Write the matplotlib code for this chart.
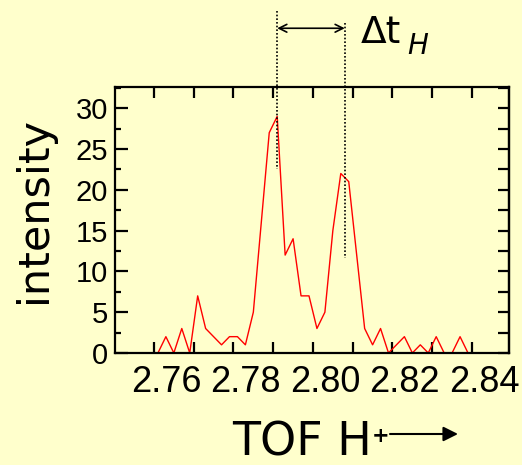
import matplotlib
matplotlib.use("Agg")
import matplotlib.pyplot as plt
from matplotlib.transforms import ScaledTranslation

# time-of-flight bins (us) and counts per bin
tof = [2.761, 2.763, 2.765, 2.767, 2.769, 2.771, 2.773, 2.775, 2.777, 2.779,
       2.781, 2.783, 2.785, 2.787, 2.789, 2.791, 2.793, 2.795, 2.797, 2.799,
       2.801, 2.803, 2.805, 2.807, 2.809, 2.811, 2.813, 2.815, 2.817, 2.819,
       2.821, 2.823, 2.825, 2.827, 2.829, 2.831, 2.833, 2.835, 2.837, 2.839]
counts = [0, 2, 0, 3, 0, 7, 3, 2, 1, 2,
          2, 1, 5, 16, 27, 29, 12, 14, 7, 7,
          3, 5, 15, 22, 21, 12, 3, 1, 3, 0,
          1, 2, 0, 1, 0, 2, 0, 0, 2, 0]

xticks = [2.76, 2.77, 2.78, 2.79, 2.80, 2.81, 2.82, 2.83, 2.84]
xticklabels = ["2.76", "", "2.78", "", "2.80", "", "2.82", "", "2.84"]
yticks = [0, 5, 10, 15, 20, 25, 30]
yminor = [2.5, 7.5, 12.5, 17.5, 22.5, 27.5, 32.5]

# the two peak positions marked by the dotted lines
peak1 = 2.791
peak2 = 2.808

bg = "#FFFFCC"
fig = plt.figure(figsize=(5.22, 4.65), dpi=100, facecolor=bg)
ax = fig.add_axes([0.2203, 0.2409, 0.7547, 0.5720], facecolor=bg)

ax.plot(tof, counts, color="red", lw=1.0)

ax.set_xlim(2.7502, 2.8493)
ax.set_ylim(0, 32.6)

for s in ax.spines.values():
    s.set_linewidth(1.6)

ax.set_xticks(xticks)
ax.set_xticklabels(xticklabels, fontfamily="Liberation Sans", fontsize=26)
ax.tick_params(axis="x", direction="in", length=8, width=1.6, top=True, pad=9)
shift = ScaledTranslation(0.12, 0, fig.dpi_scale_trans)
for lab in ax.get_xticklabels():
    lab.set_transform(lab.get_transform() + shift)

ax.set_yticks(yticks)
ax.set_yticks(yminor, minor=True)
ax.set_yticklabels([str(v) for v in yticks], fontfamily="Liberation Sans", fontsize=21)
ax.tick_params(axis="y", which="major", direction="in", length=9, width=1.6, pad=5)
ax.tick_params(axis="y", which="minor", direction="in", length=4.5, width=1.6)

# right side: every 2.5 with the same length
right = ax.secondary_yaxis("right")
right.set_yticks(yticks + yminor)
right.tick_params(direction="in", length=8, width=1.6, labelright=False)
right.spines["right"].set_linewidth(1.6)

# dotted markers for the two peaks and the delta-t arrow
ax.plot([peak1, peak1], [41.9, 22.6], ls=(0, (1, 1.2)), color="black", lw=1.2, clip_on=False)
ax.plot([peak2, peak2], [40.4, 11.7], ls=(0, (1, 1.2)), color="black", lw=1.2, clip_on=False)
ax.annotate("", xy=(peak2, 39.8), xytext=(peak1, 39.8),
            arrowprops=dict(arrowstyle="<->", lw=1.2, color="black",
                            shrinkA=0, shrinkB=0, mutation_scale=14),
            annotation_clip=False)
fig.text(361 / 522, 1 - 43 / 465, "\u0394t", fontsize=27, va="baseline", ha="left")
fig.text(407 / 522, 1 - 54 / 465, "H", fontsize=20, style="italic", va="baseline", ha="left")

# axis titles
fig.text(34 / 522, 1 - 210 / 465, "intensity", fontsize=31, rotation=90,
         ha="center", va="center")
fig.text(232 / 522, 1 - 455 / 465, "TOF H", fontsize=33, ha="left", va="baseline")
fig.text(381 / 522, 1 - 436 / 465, "+", fontsize=15, fontweight="bold", ha="center", va="center")
fig.add_artist(plt.matplotlib.patches.FancyArrowPatch(
    (390 / 522, 1 - 434 / 465), (458 / 522, 1 - 434 / 465),
    transform=fig.transFigure, arrowstyle="-|>", mutation_scale=22,
    lw=1.5, color="black", shrinkA=0, shrinkB=0))

fig.savefig("out.png", dpi=100, facecolor=bg)
